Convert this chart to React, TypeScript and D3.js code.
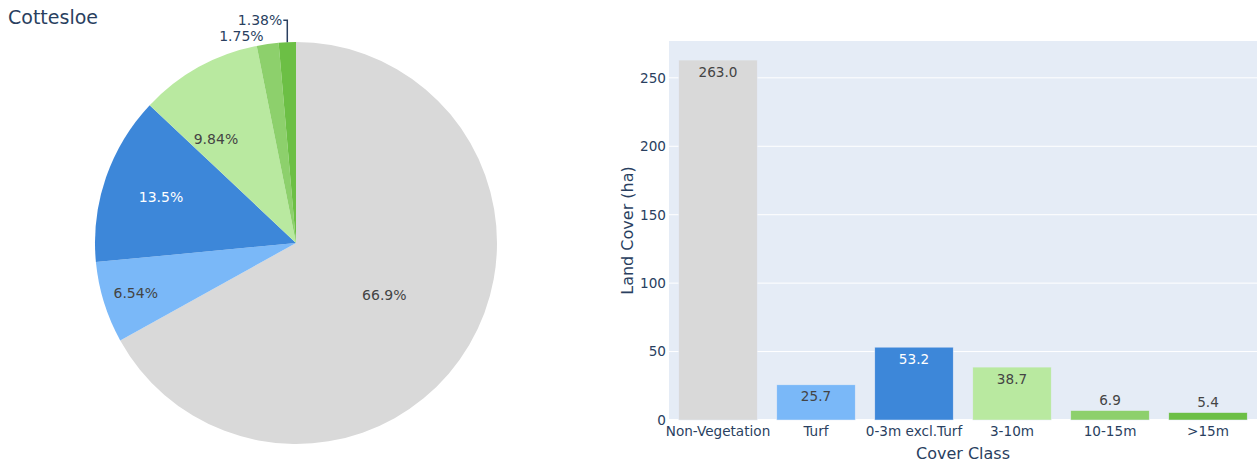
import * as d3 from "d3";

// Cottesloe land cover: pie (share) + bar (hectares)

const categories = ["Non-Vegetation", "Turf", "0-3m excl.Turf", "3-10m", "10-15m", ">15m"];
const landCover = [262.98, 25.7, 53.21, 38.66, 6.88, 5.42];
const colors = ["#d9d9d9", "#7ab8f8", "#3d87d9", "#b9e9a0", "#8dd06c", "#6cbf45"];
const yTicks = [0, 50, 100, 150, 200, 250];
const darkSlices = ["0-3m excl.Turf"];

const W = 1257;
const H = 465;
const FONT = "DejaVu Sans, Verdana, sans-serif";
const INK = "#2a3f5f";

// pie geometry
const PIE = { cx: 296, cy: 243, r: 201 };
// inside label placement: [radius fraction, angle shift in degrees]
const INSIDE_LABEL = [[0.51, 0], [0.835, 0], [0.71, 0], [0.653, -8.6]];

// bar plot area
const BAR = { left: 669, right: 1257, top: 41, bottom: 420 };

const fmtPct = (v: number) => d3.format(".3~r")(v) + "%";

function Pie() {
  const total = d3.sum(landCover);
  const arcs = d3.pie<number>().sort(null).value((d) => d)(landCover);
  const arc = d3.arc<d3.PieArcDatum<number>>().innerRadius(0).outerRadius(PIE.r);
  const polar = (a: number, rr: number) => [rr * Math.sin(a), -rr * Math.cos(a)];

  return (
    <g transform={`translate(${PIE.cx},${PIE.cy})`}>
      {arcs.map((a, i) => (
        <path key={categories[i]} d={arc(a) ?? ""} fill={colors[i]} />
      ))}
      {arcs.map((a, i) => {
        const pct = fmtPct((landCover[i] / total) * 100);
        const mid = (a.startAngle + a.endAngle) / 2;
        if (i < INSIDE_LABEL.length) {
          const [f, shift] = INSIDE_LABEL[i];
          const [x, y] = polar(mid + (shift * Math.PI) / 180, f * PIE.r);
          return (
            <text key={"t" + i} x={x} y={y} dy="0.36em" textAnchor="middle"
              fontSize={14} fill={darkSlices.includes(categories[i]) ? "#fff" : "#444"}>
              {pct}
            </text>
          );
        }
        const [ex, ey] = polar(mid, PIE.r);
        if (i === arcs.length - 1) {
          // leader line to a label lifted above the neighbour
          const ly = ey - 22;
          return (
            <g key={"t" + i}>
              <path d={`M${ex},${ey}V${ly}H${ex - 4}`} fill="none" stroke={INK} strokeWidth={1.5} />
              <text x={ex - 5} y={ly} dy="0.36em" textAnchor="end" fontSize={14} fill={INK}>{pct}</text>
            </g>
          );
        }
        return (
          <text key={"t" + i} x={ex - 4} y={ey - 8} dy="0.36em" textAnchor="end" fontSize={14} fill={INK}>
            {pct}
          </text>
        );
      })}
    </g>
  );
}

function Bars() {
  const x = d3.scaleBand<string>().domain(categories).range([BAR.left, BAR.right]).paddingInner(0.2).paddingOuter(0.1);
  const y = d3.scaleLinear().domain([0, d3.max(landCover)! * 1.053]).range([BAR.bottom, BAR.top]);
  const fmt = d3.format(".1f");

  return (
    <g>
      <rect x={BAR.left} y={BAR.top} width={BAR.right - BAR.left} height={BAR.bottom - BAR.top} fill="#E5ECF6" />
      {yTicks.map((t) => (
        <g key={t}>
          <line x1={BAR.left} x2={BAR.right} y1={y(t)} y2={y(t)} stroke="#fff" strokeWidth={t === 0 ? 2 : 1} />
          <text x={BAR.left - 3} y={y(t)} dy="0.36em" textAnchor="end" fontSize={13.6} fill={INK}>{t}</text>
        </g>
      ))}
      {categories.map((c, i) => {
        const v = landCover[i];
        const bx = x(c)!;
        const top = y(v);
        const h = BAR.bottom - top;
        const inside = h > 22;
        return (
          <g key={c}>
            <rect x={bx} y={top} width={x.bandwidth()} height={h} fill={colors[i]}
              stroke="#E5ECF6" strokeWidth={0.5} />
            <text x={bx + x.bandwidth() / 2} y={inside ? top + 16.6 : top - 5.5} textAnchor="middle"
              fontSize={13.6} fill={inside && darkSlices.includes(c) ? "#fff" : "#444"}>
              {fmt(v)}
            </text>
            <text x={bx + x.bandwidth() / 2} y={436} textAnchor="middle" fontSize={13.6} fill={INK}>{c}</text>
          </g>
        );
      })}
      <text x={(BAR.left + BAR.right) / 2} y={459} textAnchor="middle" fontSize={16} fill={INK}>Cover Class</text>
      <text transform={`translate(633,${(BAR.top + BAR.bottom) / 2}) rotate(-90)`} textAnchor="middle"
        fontSize={16} fill={INK}>Land Cover (ha)</text>
    </g>
  );
}

export default function App() {
  return (
    <svg width={W} height={H} style={{ position: "fixed", left: 0, top: 0, background: "#fff" }}
      fontFamily={FONT}>
      <rect width={W} height={H} fill="#fff" />
      <text x={8} y={24} fontSize={19} fill={INK}>Cottesloe</text>
      <Pie />
      <Bars />
    </svg>
  );
}
